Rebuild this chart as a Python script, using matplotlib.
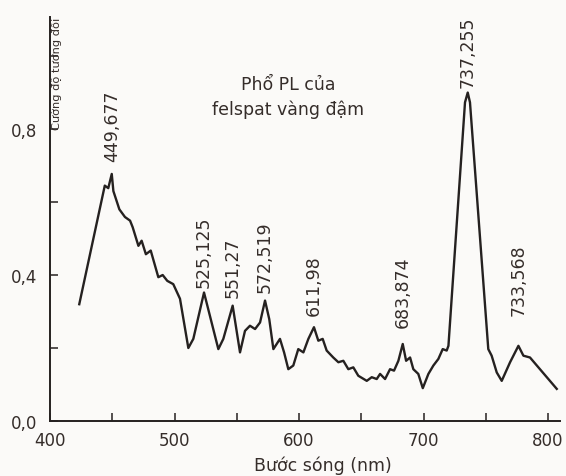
import numpy as np
import matplotlib
matplotlib.use('Agg')
import matplotlib.pyplot as plt
from matplotlib.ticker import MultipleLocator

plt.rcParams['font.family'] = ['DejaVu Sans']

# PL spectrum
wavelength = [423.5, 444.0, 446.8, 449.6, 450.9, 455.7, 460.2, 464.3, 466.4, 471.0,
              473.6, 477.0, 480.9, 487.0, 490.5, 494.2, 499.0, 504.4, 511.1, 515.1,
              523.7, 535.2, 539.2, 546.7, 552.6, 556.6, 560.6, 564.7, 568.7, 572.7,
              576.1, 579.4, 584.7, 588.0, 591.4, 595.4, 599.4, 603.5, 607.5, 612.0,
              615.5, 619.0, 622.2, 627.5, 631.6, 635.6, 639.6, 643.6, 647.6, 654.4,
              658.4, 662.4, 665.1, 669.1, 673.1, 676.3, 679.8, 683.3, 686.0, 689.2,
              691.8, 695.8, 699.4, 703.9, 707.9, 711.9, 715.4, 718.6, 720.0, 733.3,
              735.5, 737.3, 752.0, 754.7, 758.8, 762.8, 769.5, 776.2, 780.2, 785.5,
              807.0]
intensity = [0.32, 0.645, 0.638, 0.677, 0.63, 0.58, 0.559, 0.549, 0.531, 0.48,
             0.494, 0.457, 0.467, 0.394, 0.40, 0.384, 0.375, 0.335, 0.20, 0.225,
             0.352, 0.197, 0.225, 0.316, 0.188, 0.247, 0.261, 0.252, 0.27, 0.33,
             0.279, 0.197, 0.225, 0.188, 0.142, 0.152, 0.197, 0.188, 0.225, 0.257,
             0.22, 0.225, 0.193, 0.174, 0.161, 0.165, 0.142, 0.147, 0.124, 0.11,
             0.12, 0.115, 0.129, 0.115, 0.142, 0.138, 0.165, 0.211, 0.165, 0.174,
             0.142, 0.129, 0.09, 0.129, 0.152, 0.17, 0.197, 0.193, 0.206, 0.873,
             0.90, 0.873, 0.197, 0.179, 0.133, 0.11, 0.161, 0.206, 0.179, 0.174,
             0.088]

# peak annotations (label text, where the peak sits on the curve)
peak_labels = ['449,677', '525,125', '551,27', '572,519', '611,98', '683,874', '737,255', '733,568']
peak_x = [449.6, 523.7, 546.7, 572.7, 612.0, 683.3, 735.5, 776.2]
peak_y = [0.677, 0.352, 0.316, 0.33, 0.257, 0.211, 0.90, 0.206]
label_gap = [9, 4, 6, 6, 9, 12, 4, 22]

xticks = [400, 500, 600, 700, 800]
yticks = [0.0, 0.4, 0.8]
ytick_labels = ['0,0', '0,4', '0,8']

ink = '#252120'
txt = '#352d2a'

fig = plt.figure(figsize=(5.66, 4.77), dpi=100)
fig.patch.set_facecolor('#fbfaf8')
ax = fig.add_axes([50 / 566, 1 - 422 / 477, 510 / 566, 404 / 477])
ax.set_facecolor('none')

ax.plot(wavelength, intensity, color=ink, lw=1.7)

for lab, px, py, g in zip(peak_labels, peak_x, peak_y, label_gap):
    ax.annotate(lab, (px, py), xytext=(0, g), textcoords='offset points',
                rotation=90, ha='center', va='bottom', fontsize=12.5, color=txt)

ax.set_xlim(400, 809.6)
ax.set_ylim(0, 1.107)

for s in ['top', 'right']:
    ax.spines[s].set_visible(False)
for s in ['left', 'bottom']:
    ax.spines[s].set_color(ink)
    ax.spines[s].set_linewidth(1.4)

ax.set_xticks(xticks)
ax.set_xticklabels([str(v) for v in xticks])
ax.xaxis.set_minor_locator(MultipleLocator(50))
ax.set_yticks(yticks)
ax.set_yticklabels(ytick_labels)
ax.yaxis.set_minor_locator(MultipleLocator(0.2))
ax.tick_params(axis='both', which='both', direction='in', length=6, width=1.1,
               color=ink, labelcolor=txt, labelsize=12)
ax.tick_params(axis='y', which='major', pad=9)
ax.tick_params(axis='x', which='major', pad=7)

ax.set_xlabel('Bước sóng (nm)', fontsize=12.5, color=txt)
ax.xaxis.set_label_coords(0.535, -0.085)

ax.text(0.012, 1.0, 'Cường độ tương đối', transform=ax.transAxes, rotation=90,
        ha='center', va='top', fontsize=8.2, color=txt)
ax.text(0.467, 0.803, 'Phổ PL của\nfelspat vàng đậm', transform=ax.transAxes,
        ha='center', va='center', fontsize=12.5, color=txt, linespacing=1.45)

fig.savefig('out.png', dpi=100, facecolor=fig.get_facecolor())
